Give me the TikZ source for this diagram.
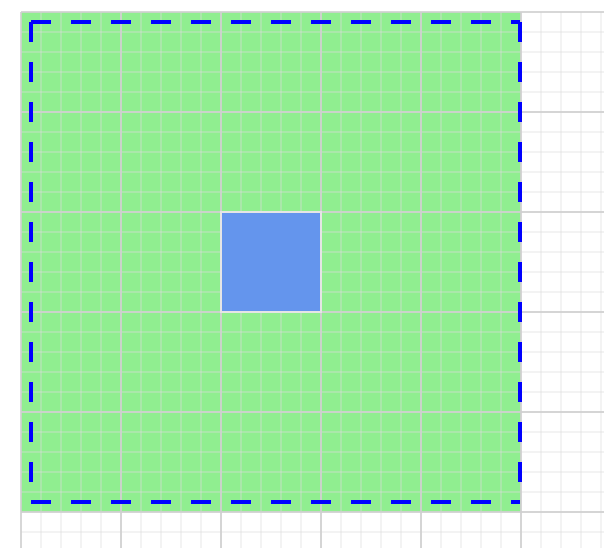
\documentclass[tikz,border=0pt]{standalone}
\usepackage{tikz}
\definecolor{fieldgreen}{RGB}{144,238,144}
\definecolor{cellblue}{RGB}{100,149,237}
\definecolor{gridgray}{RGB}{208,208,208}
\definecolor{finegray}{RGB}{220,220,220}
\tikzset{
  fineline/.style={finegray, line width=0.3pt, opacity=0.35},
  mainline/.style={gridgray, line width=0.4pt, opacity=0.85},
  marginline/.style={blue, line width=0.9pt, dash pattern=on 0.2cm off 0.2cm}
}

\begin{document}
\begin{tikzpicture}[x=0.01cm, y=-0.01cm]

  \useasboundingbox (0,0) rectangle (604,548);

  % ---------- area ----------
  \fill[fieldgreen] (21,12) rectangle (521,512);

  % ---------- grid ----------
  \foreach \x in {41,61,...,601}
    \draw[fineline] (\x,12) -- (\x,548);
  \foreach \y in {32,52,...,532}
    \draw[fineline] (21,\y) -- (604,\y);
  \foreach \x in {21,121,...,521}
    \draw[mainline] (\x,12) -- (\x,548);
  \foreach \y in {12,112,...,512}
    \draw[mainline] (21,\y) -- (604,\y);

  % ---------- cell ----------
  \fill[cellblue] (221,212) rectangle (321,312);
  \draw[gray!20, line width=0.45pt] (221,212) rectangle (321,312);

  % ---------- margin ----------
  \draw[marginline] (31,22) -- (520,22);
  \draw[marginline] (31,22) -- (31,502);
  \draw[marginline] (520,22) -- (520,502);
  \draw[marginline] (31,502) -- (520,502);

\end{tikzpicture}
\end{document}
